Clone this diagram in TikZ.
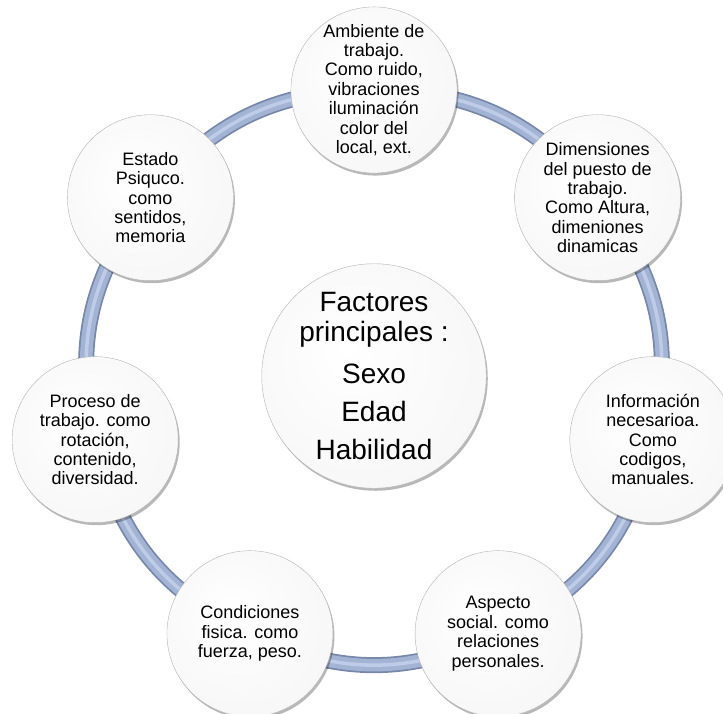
\documentclass[tikz,border=0pt]{standalone}
\usepackage{fontspec}
\setmainfont{Liberation Sans}
\usetikzlibrary{shadows,backgrounds}
\definecolor{ringdark}{RGB}{118,135,170}
\definecolor{ringmid}{RGB}{162,179,212}
\definecolor{ringlight}{RGB}{190,204,232}
\pgfdeclareradialshading{ball}{\pgfpoint{-6bp}{6bp}}{%
  color(0bp)=(white); color(28bp)=(white!97!black); color(40bp)=(white!88!black);
  color(47bp)=(white!76!black); color(50bp)=(white!66!black)}
\tikzset{
  ballnode/.style={circle, shading=ball, draw=white!70!black, line width=0.4pt,
    drop shadow={shadow xshift=1.5pt, shadow yshift=-2.5pt, opacity=0.28, fill=black},
    inner sep=0pt, align=center, font=\fontsize{18}{19.4}\selectfont},
  outer/.style={ballnode, minimum size=166pt},
  hub/.style={ballnode, minimum size=222pt, font=\fontsize{28}{30}\selectfont},
  ringpart/.style={line width=16pt, draw=ringdark},
  ringfill/.style={line width=12.5pt, draw=ringmid},
  ringshine/.style={line width=3.5pt, draw=ringlight}
}
\begin{document}
\begin{tikzpicture}[x=1pt,y=1pt]
\useasboundingbox (0,0) rectangle (723,713);
\begin{scope}[shift={(374,337)}]
\node[outer] (amb) at (90:286) {Ambiente de\\trabajo.\\Como ruido,\\vibraciones\\iluminación\\color del\\local, ext.};
\node[outer] (dim) at (38.57:286) {Dimensiones\\del puesto de\\trabajo.\\Como Altura,\\dimeniones\\dinamicas};
\node[outer] (inf) at (-12.86:286) {Información\\necesarioa.\\Como\\codigos,\\manuales.};
\node[outer] (asp) at (-64.29:286) {Aspecto\\social. como\\relaciones\\personales.};
\node[outer] (con) at (-115.71:286) {Condiciones\\fisica. como\\fuerza, peso.};
\node[outer] (pro) at (-167.14:286) {Proceso de\\trabajo. como\\rotación,\\contenido,\\diversidad.};
\node[outer] (est) at (141.43:286) {Estado\\Psiquco.\\como\\sentidos,\\memoria};
\node[hub] (fac) at (0,0) {Factores\\principales :\\[12pt]Sexo\\[8pt]Edad\\[8pt]Habilidad};
\end{scope}
\begin{scope}[on background layer]
\foreach \st in {ringpart,ringfill,ringshine}{
  \draw[\st] (amb.center) to[bend left=25.71] (dim.center);
  \draw[\st] (dim.center) to[bend left=25.71] (inf.center);
  \draw[\st] (inf.center) to[bend left=25.71] (asp.center);
  \draw[\st] (asp.center) to[bend left=25.71] (con.center);
  \draw[\st] (con.center) to[bend left=25.71] (pro.center);
  \draw[\st] (pro.center) to[bend left=25.71] (est.center);
  \draw[\st] (est.center) to[bend left=25.71] (amb.center);
}
\end{scope}
\end{tikzpicture}
\end{document}
